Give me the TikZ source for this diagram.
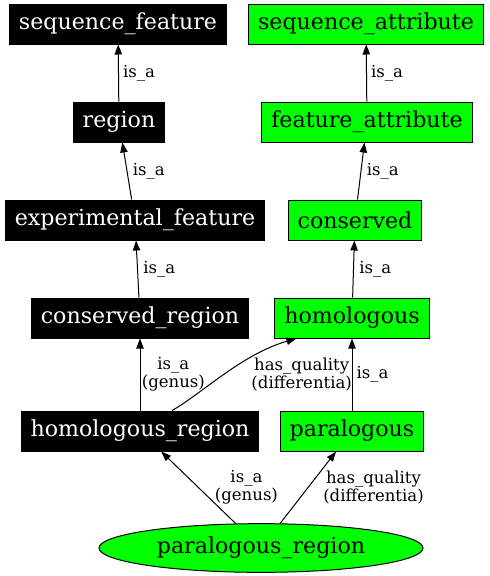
\documentclass[tikz,border=0pt]{standalone}
\usepackage{fontspec}
\setmainfont{DejaVu Serif}
\usepackage{tikz}
\usetikzlibrary{arrows.meta,positioning,shapes.geometric}
\definecolor{qualgreen}{RGB}{0,255,0}

\begin{document}
\begin{tikzpicture}[
    x=0.75pt, y=-0.75pt,
    every node/.style={font=\fontsize{16.6}{19}\selectfont},
    typebox/.style={
      rectangle, draw=black, fill=black, text=white, line width=0.75pt,
      minimum height=30pt, inner xsep=7pt
    },
    qualbox/.style={
      rectangle, draw=black, fill=qualgreen, line width=0.75pt,
      minimum height=30pt, inner xsep=7pt
    },
    qualellipse/.style={
      ellipse, draw=black, fill=qualgreen, line width=0.75pt,
      minimum width=243pt, minimum height=36.5pt
    },
    rel/.style={-{Triangle[length=7.5pt, width=5.5pt]}, line width=0.75pt},
    lbl/.style={font=\fontsize{12.4}{11.5}\selectfont, align=center, inner sep=2pt}
  ]
    \useasboundingbox (0,0) rectangle (490,576);

    % Feature types
    \node[typebox] (seqfeat) at (118,24) {sequence\_feature};
    \node[typebox] (region) at (119,122) {region};
    \node[typebox] (expfeat) at (135,220) {experimental\_feature};
    \node[typebox] (consregion) at (140,318) {conserved\_region};
    \node[typebox] (homregion) at (140,431) {homologous\_region};

    % Attributes
    \node[qualbox] (seqattr) at (366,24) {sequence\_attribute};
    \node[qualbox] (featattr) at (367,122) {feature\_attribute};
    \node[qualbox] (conserved) at (355,220) {conserved};
    \node[qualbox] (homologous) at (352,318) {homologous};
    \node[qualbox] (paralogous) at (352,431) {paralogous};

    % Defined term
    \node[qualellipse] (parregion) at (261,548) {paralogous\_region};

    % is_a chains
    \draw[rel] (region) -- node[lbl, right=1pt] {is\_a} (seqfeat);
    \draw[rel] (expfeat) -- node[lbl, right=2pt] {is\_a} (region);
    \draw[rel] (consregion) -- node[lbl, right=2pt] {is\_a} (expfeat);
    \draw[rel] (homregion) -- node[lbl, right=-1pt] {is\_a\\(genus)} (consregion);
    \draw[rel] (featattr) -- node[lbl, right=1pt] {is\_a} (seqattr);
    \draw[rel] (conserved) -- node[lbl, right=2pt] {is\_a} (featattr);
    \draw[rel] (homologous) -- node[lbl, right=2pt] {is\_a} (conserved);
    \draw[rel] (paralogous) -- node[lbl, right=1pt] {is\_a} (homologous);

    % Differentia
    \draw[rel] ([xshift=24pt]homregion.north) .. controls (200,395) and (242,354) .. ([xshift=16.5pt]homologous.south west)
      node[lbl, pos=0.5, right=18pt] {has\_quality\\(differentia)};
    \draw[rel] (parregion) -- node[lbl, right=10pt] {is\_a\\(genus)} (homregion);
    \draw[rel] (parregion) -- node[lbl, right=9pt] {has\_quality\\(differentia)} (paralogous);

  \end{tikzpicture}
\end{document}
